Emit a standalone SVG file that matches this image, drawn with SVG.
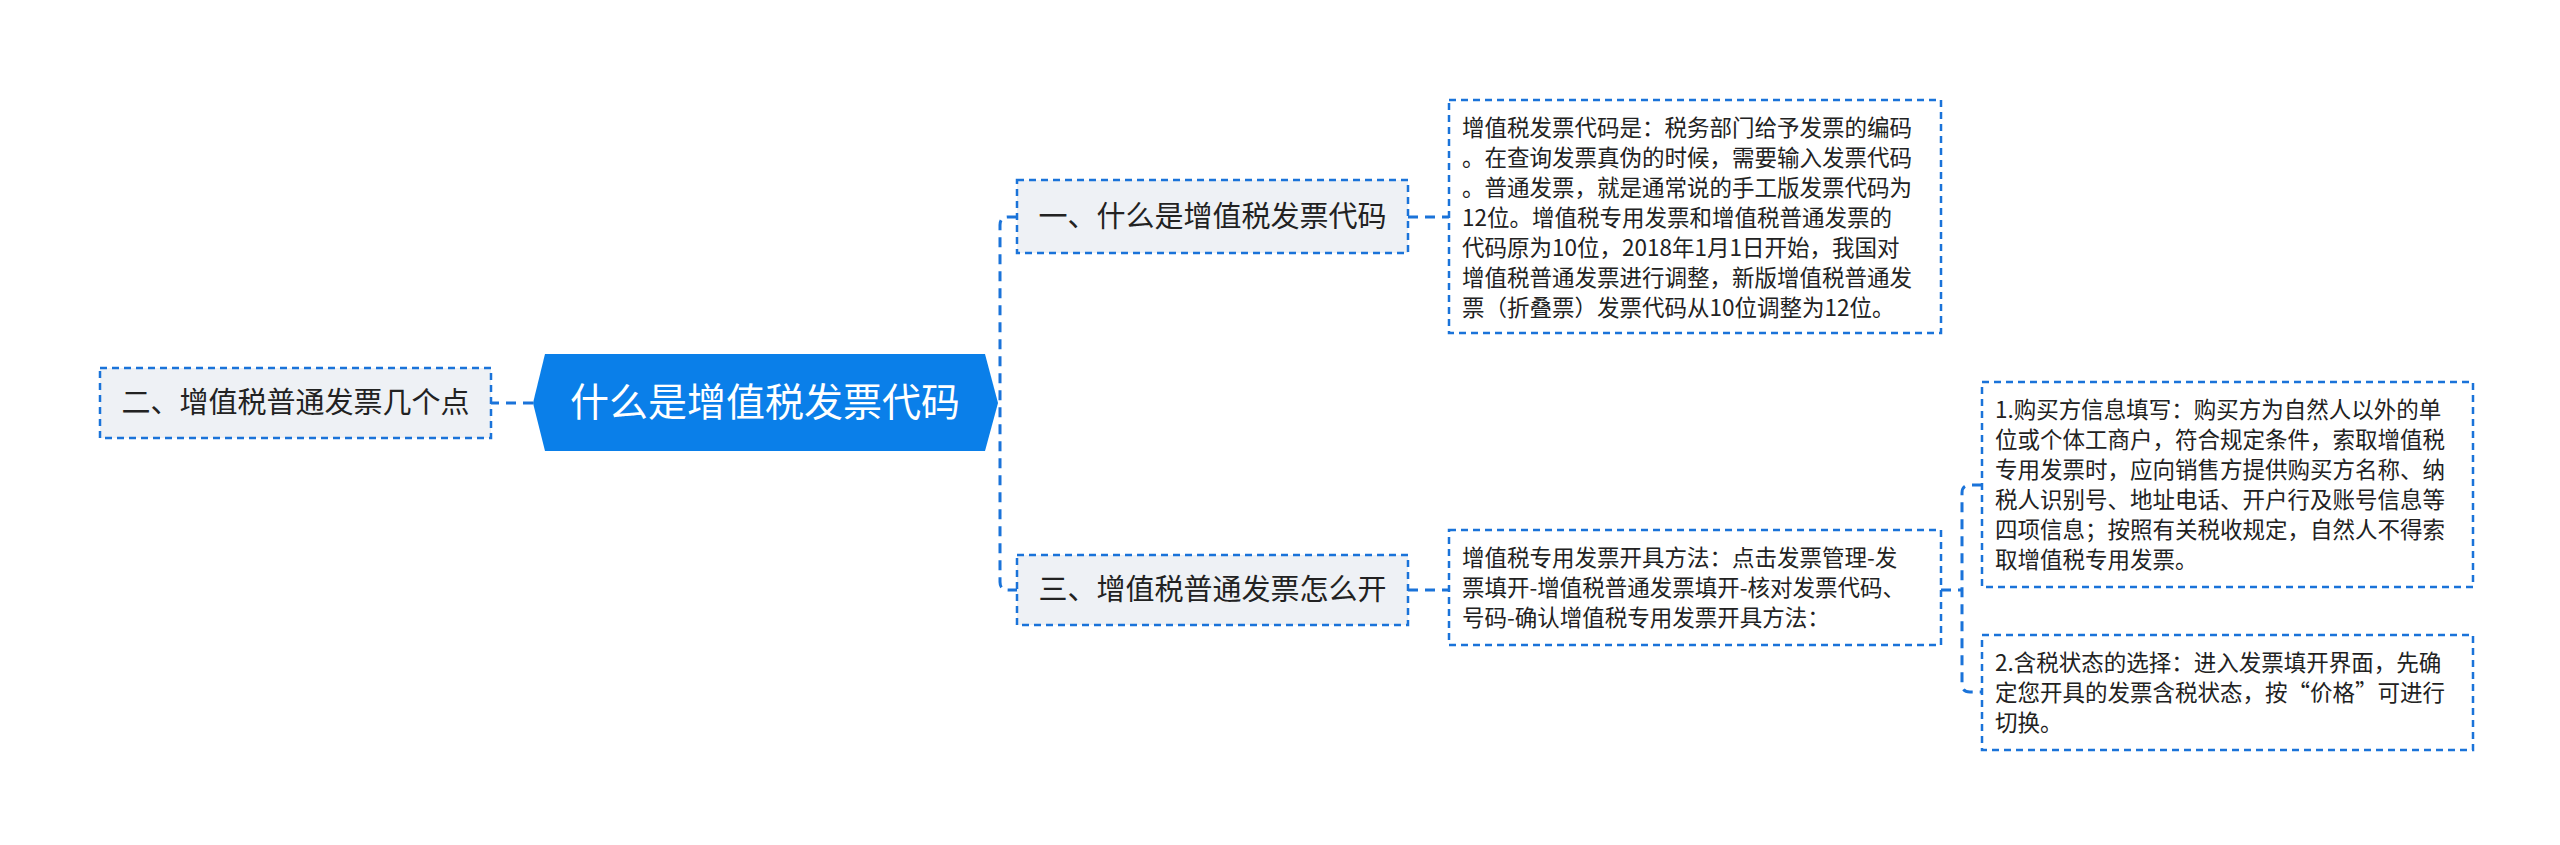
<svg xmlns="http://www.w3.org/2000/svg" width="2560" height="845" viewBox="0 0 2560 845">
<style>
text{font-family:"Noto Sans CJK SC","Noto Sans",sans-serif;fill:#222}
.n{fill:#eef1f5;stroke:#1a73d9;stroke-width:2.5;stroke-dasharray:7 5}
.b{fill:#fff;stroke:#1a73d9;stroke-width:2.5;stroke-dasharray:7 5}
.c{fill:none;stroke:#1a73d9;stroke-width:3;stroke-dasharray:10 7}
.l{font-size:29px}
.t{font-size:22.5px}
</style>
<rect width="2560" height="845" fill="#fff"/>
<g id="connectors">
<path class="c" d="M533 403H491"/>
<path class="c" d="M985 403H1000M1017 217H1008Q1000 217 1000 225V582Q1000 590 1008 590H1017"/>
<path class="c" d="M1408 217H1449M1408 590H1449"/>
<path class="c" d="M1941 590H1962M1982 485H1970Q1962 485 1962 493V684Q1962 692 1970 692H1982"/>
</g>
<g id="center">
<polygon points="545,354 985,354 998,403 985,451 545,451 533,403" fill="#0a7fe9"/>
<text x="765" y="416" font-size="39" text-anchor="middle" style="fill:#fff">什么是增值税发票代码</text>
</g>
<g id="left"><rect class="n" x="100" y="368" width="391" height="70"/><text class="l" x="295.5" y="413" text-anchor="middle">二、增值税普通发票几个点</text></g>
<g id="n1"><rect class="n" x="1017" y="180" width="391" height="73"/><text class="l" x="1212.5" y="227" text-anchor="middle">一、什么是增值税发票代码</text></g>
<g id="n3"><rect class="n" x="1017" y="555" width="391" height="70"/><text class="l" x="1212.5" y="600" text-anchor="middle">三、增值税普通发票怎么开</text></g>
<g id="box1"><rect class="b" x="1449" y="100" width="492" height="233"/>
<text class="t"><tspan x="1462" y="136">增值税发票代码是：税务部门给予发票的编码</tspan><tspan x="1462" y="166">。在查询发票真伪的时候，需要输入发票代码</tspan><tspan x="1462" y="196">。普通发票，就是通常说的手工版发票代码为</tspan><tspan x="1462" y="226">12位。增值税专用发票和增值税普通发票的</tspan><tspan x="1462" y="256">代码原为10位，2018年1月1日开始，我国对</tspan><tspan x="1462" y="286">增值税普通发票进行调整，新版增值税普通发</tspan><tspan x="1462" y="316">票（折叠票）发票代码从10位调整为12位。</tspan></text></g>
<g id="box3"><rect class="b" x="1449" y="530" width="492" height="115"/>
<text class="t"><tspan x="1462" y="566">增值税专用发票开具方法：点击发票管理-发</tspan><tspan x="1462" y="596">票填开-增值税普通发票填开-核对发票代码、</tspan><tspan x="1462" y="626">号码-确认增值税专用发票开具方法：</tspan></text></g>
<g id="box3a"><rect class="b" x="1982" y="382" width="491" height="205"/>
<text class="t"><tspan x="1995" y="418">1.购买方信息填写：购买方为自然人以外的单</tspan><tspan x="1995" y="448">位或个体工商户，符合规定条件，索取增值税</tspan><tspan x="1995" y="478">专用发票时，应向销售方提供购买方名称、纳</tspan><tspan x="1995" y="508">税人识别号、地址电话、开户行及账号信息等</tspan><tspan x="1995" y="538">四项信息；按照有关税收规定，自然人不得索</tspan><tspan x="1995" y="568">取增值税专用发票。</tspan></text></g>
<g id="box3b"><rect class="b" x="1982" y="635" width="491" height="115"/>
<text class="t"><tspan x="1995" y="671">2.含税状态的选择：进入发票填开界面，先确</tspan><tspan x="1995" y="701">定您开具的发票含税状态，按“价格”可进行</tspan><tspan x="1995" y="731">切换。</tspan></text></g>
</svg>
